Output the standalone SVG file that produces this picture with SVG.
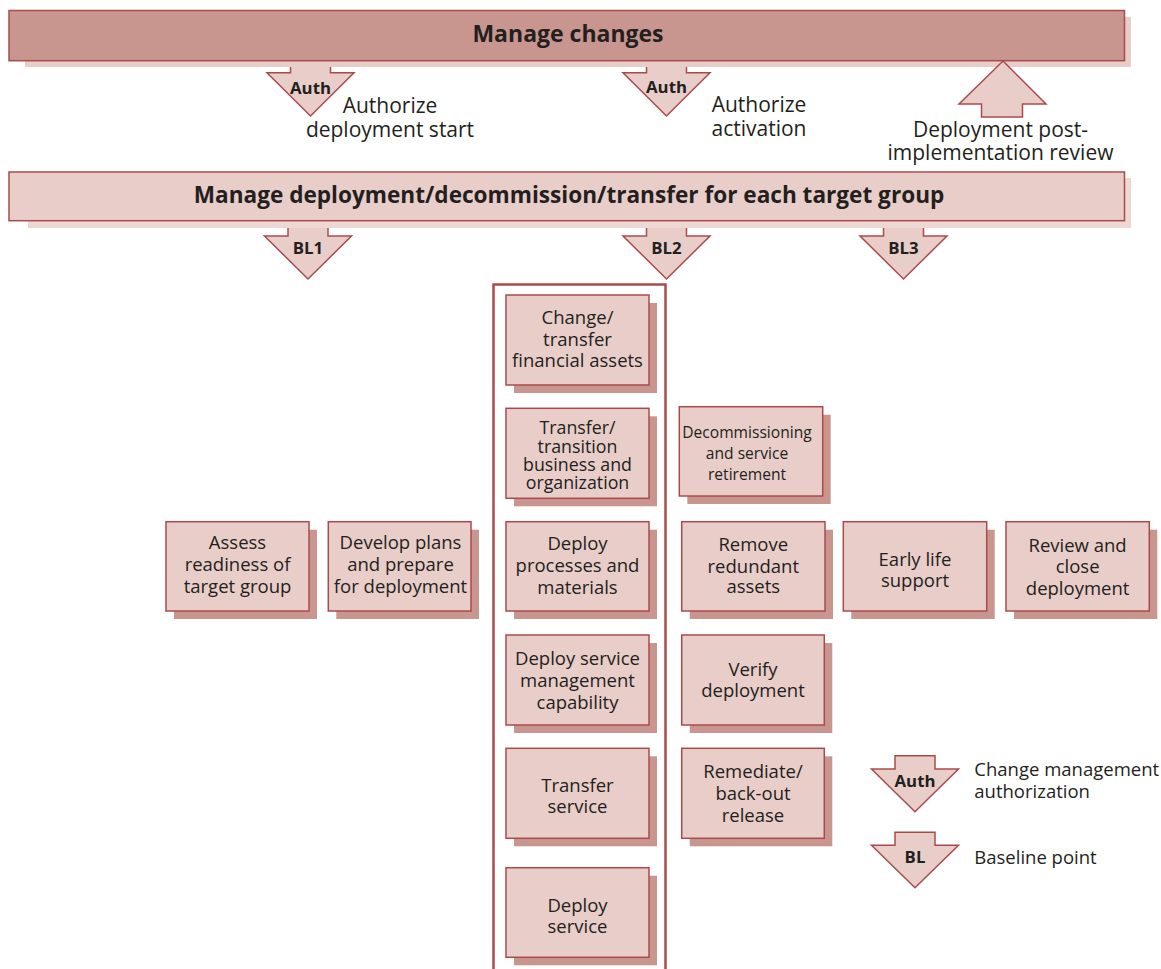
<svg xmlns="http://www.w3.org/2000/svg" width="1161" height="969" viewBox="0 0 1161 969">
<style>
.t{font-family:"Open Sans","Noto Sans",sans-serif;fill:#231f20;text-anchor:middle}
.b{font-weight:bold}
.box{fill:#e8cdc9;stroke:#aa4b4b;stroke-width:1.5}
.sh{fill:#c9958f}
.arr{fill:#e8cdc9;stroke:#aa4b4b;stroke-width:1.5;stroke-linejoin:miter}
.f18{font-size:18.5px}
.f21{font-size:21px}
.lab{font-size:16.8px;font-weight:bold}
.ls{text-anchor:start;font-size:18.5px}
</style>
<rect width="1161" height="969" fill="#ffffff"/>

<g id="manage-changes">
<rect x="25" y="17" width="1106" height="50" fill="#e8cdc9"/>
<rect x="9" y="10.5" width="1115.5" height="50.2" fill="#c9958f" stroke="#aa4b4b" stroke-width="1.5"/>
<text class="t b" x="568" y="42" font-size="23px">Manage changes</text>
</g>

<g id="manage-deployment">
<rect x="28" y="178" width="1103" height="50" fill="#eed8d4"/>
<rect x="9" y="172" width="1115.5" height="48.7" class="box"/>
<text class="t b" x="569" y="203" font-size="22.6px">Manage deployment/decommission/transfer for each target group</text>
</g>

<g id="connectors">
<g id="auth-start">
<path class="arr" d="M290.5,67 L290.5,72.7 L267,72.7 L310.5,116 L354,72.7 L330.5,72.7 L330.5,67"/>
<text class="t lab" x="310.5" y="94">Auth</text>
<text class="t f21" x="390" y="112.7">Authorize</text>
<text class="t f21" x="390" y="136.7">deployment start</text>
</g>
<g id="auth-activation">
<path class="arr" d="M646.5,67 L646.5,72.7 L623,72.7 L666.5,116 L710,72.7 L686.5,72.7 L686.5,67"/>
<text class="t lab" x="666.5" y="93">Auth</text>
<text class="t f21" x="759" y="112.3">Authorize</text>
<text class="t f21" x="759" y="136">activation</text>
</g>
<g id="post-review">
<path class="arr" d="M1003,61 L1046,104 L1022.5,104 L1022.5,117 L981.5,117 L981.5,104 L959,104 Z"/>
<text class="t f21" x="1000.5" y="137.3">Deployment post-</text>
<text class="t f21" x="1000.5" y="160">implementation review</text>
</g>
<g id="bl1">
<path class="arr" d="M288,228 L288,236 L264.5,236 L308,279 L351.5,236 L328,236 L328,228"/>
<text class="t lab" x="308" y="253.5">BL1</text>
</g>
<g id="bl2">
<path class="arr" d="M646.5,228 L646.5,236 L623,236 L666.5,279 L710,236 L686.5,236 L686.5,228"/>
<text class="t lab" x="666.5" y="253.5">BL2</text>
</g>
<g id="bl3">
<path class="arr" d="M883.5,228 L883.5,236 L860,236 L903.5,279 L947,236 L923.5,236 L923.5,228"/>
<text class="t lab" x="903.5" y="253.5">BL3</text>
</g>
</g>

<g id="bl2-container">
<path d="M493.5,975 L493.5,284.5 L665.5,284.5 L665.5,975" fill="none" stroke="#aa4b4b" stroke-width="2.5"/>
</g>

<g id="change-financial">
<rect class="sh" x="514" y="303" width="143" height="90"/>
<rect class="box" x="506" y="295" width="143" height="90"/>
<text class="t f18" x="577.5" y="324">Change/</text>
<text class="t f18" x="577.5" y="345.7">transfer</text>
<text class="t f18" x="577.5" y="367.3">financial assets</text>
</g>

<g id="transfer-business">
<rect class="sh" x="514" y="416.3" width="143" height="90"/>
<rect class="box" x="506" y="408.3" width="143" height="90"/>
<text class="t" font-size="17.8px" x="577.5" y="434">Transfer/</text>
<text class="t" font-size="17.8px" x="577.5" y="452.7">transition</text>
<text class="t" font-size="17.8px" x="577.5" y="470.7">business and</text>
<text class="t" font-size="17.8px" x="577.5" y="489.3">organization</text>
</g>

<g id="decommissioning">
<rect class="sh" x="687.3" y="414.7" width="143.4" height="89.3"/>
<rect class="box" x="679.3" y="406.7" width="143.4" height="89.3"/>
<text class="t" font-size="15.6px" x="747" y="438.3">Decommissioning</text>
<text class="t" font-size="15.6px" x="747" y="459">and service</text>
<text class="t" font-size="15.6px" x="747" y="480">retirement</text>
</g>

<g id="assess-readiness">
<rect class="sh" x="174" y="529.7" width="143" height="89.3"/>
<rect class="box" x="166" y="521.7" width="143" height="89.3"/>
<text class="t f18" x="237.5" y="549">Assess</text>
<text class="t f18" x="237.5" y="571">readiness of</text>
<text class="t f18" x="237.5" y="593">target group</text>
</g>

<g id="develop-plans">
<rect class="sh" x="336.3" y="529.7" width="142.7" height="89.3"/>
<rect class="box" x="328.3" y="521.7" width="142.7" height="89.3"/>
<text class="t f18" x="400.5" y="549">Develop plans</text>
<text class="t f18" x="400.5" y="571">and prepare</text>
<text class="t f18" x="400.5" y="593">for deployment</text>
</g>

<g id="deploy-processes">
<rect class="sh" x="514" y="529.7" width="143" height="89.3"/>
<rect class="box" x="506" y="521.7" width="143" height="89.3"/>
<text class="t f18" x="577.5" y="549.5">Deploy</text>
<text class="t f18" x="577.5" y="571.5">processes and</text>
<text class="t f18" x="577.5" y="593.5">materials</text>
</g>

<g id="remove-redundant">
<rect class="sh" x="689.7" y="529.7" width="143.3" height="89.3"/>
<rect class="box" x="681.7" y="521.7" width="143.3" height="89.3"/>
<text class="t f18" x="753.3" y="550.7">Remove</text>
<text class="t f18" x="753.3" y="572.5">redundant</text>
<text class="t f18" x="753.3" y="593.3">assets</text>
</g>

<g id="early-life">
<rect class="sh" x="851.3" y="529.7" width="143.4" height="89.3"/>
<rect class="box" x="843.3" y="521.7" width="143.4" height="89.3"/>
<text class="t f18" x="915" y="566">Early life</text>
<text class="t f18" x="915" y="587">support</text>
</g>

<g id="review-close">
<rect class="sh" x="1014" y="529.7" width="143.3" height="89.3"/>
<rect class="box" x="1006" y="521.7" width="143.3" height="89.3"/>
<text class="t f18" x="1077.6" y="552.3">Review and</text>
<text class="t f18" x="1077.6" y="573.3">close</text>
<text class="t f18" x="1077.6" y="595">deployment</text>
</g>

<g id="deploy-sm-capability">
<rect class="sh" x="514" y="643" width="143" height="90"/>
<rect class="box" x="506" y="635" width="143" height="90"/>
<text class="t f18" x="577.5" y="665">Deploy service</text>
<text class="t f18" x="577.5" y="686.7">management</text>
<text class="t f18" x="577.5" y="709.3">capability</text>
</g>

<g id="verify-deployment">
<rect class="sh" x="689.7" y="643" width="142.6" height="90"/>
<rect class="box" x="681.7" y="635" width="142.6" height="90"/>
<text class="t f18" x="753" y="676">Verify</text>
<text class="t f18" x="753" y="697.3">deployment</text>
</g>

<g id="transfer-service">
<rect class="sh" x="514" y="756.3" width="143" height="90"/>
<rect class="box" x="506" y="748.3" width="143" height="90"/>
<text class="t f18" x="577.5" y="791.7">Transfer</text>
<text class="t f18" x="577.5" y="812.7">service</text>
</g>

<g id="remediate">
<rect class="sh" x="689.7" y="756.3" width="142.6" height="90"/>
<rect class="box" x="681.7" y="748.3" width="142.6" height="90"/>
<text class="t f18" x="753" y="777.7">Remediate/</text>
<text class="t f18" x="753" y="800">back-out</text>
<text class="t f18" x="753" y="821.7">release</text>
</g>

<g id="deploy-service">
<rect class="sh" x="514" y="875.7" width="143" height="89.6"/>
<rect class="box" x="506" y="867.7" width="143" height="89.6"/>
<text class="t f18" x="577.5" y="911.7">Deploy</text>
<text class="t f18" x="577.5" y="933.3">service</text>
</g>

<g id="legend">
<path class="arr" d="M895,755.7 L935,755.7 L935,769 L958.5,769 L915,811.7 L871.5,769 L895,769 Z"/>
<text class="t lab" x="915" y="787">Auth</text>
<text class="t ls" x="974.3" y="775.7">Change management</text>
<text class="t ls" x="974.3" y="798.3">authorization</text>
<path class="arr" d="M895,832.3 L935,832.3 L935,845.3 L958.5,845.3 L915,887.7 L871.5,845.3 L895,845.3 Z"/>
<text class="t lab" x="915" y="862.5">BL</text>
<text class="t ls" x="974.3" y="864">Baseline point</text>
</g>
</svg>
